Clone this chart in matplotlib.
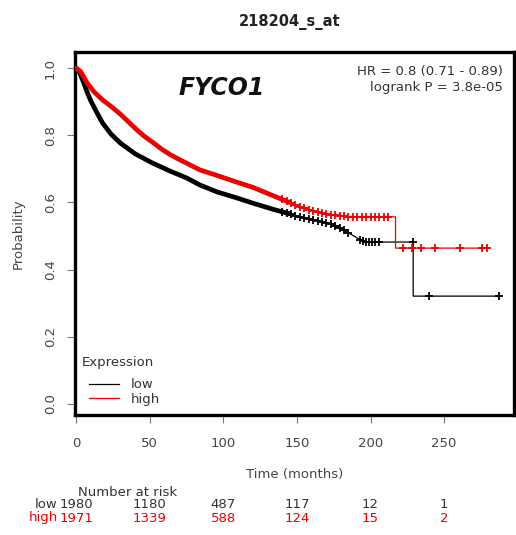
import matplotlib
matplotlib.use("Agg")
import matplotlib.pyplot as plt
import matplotlib.transforms as mtransforms
from matplotlib.lines import Line2D
import numpy as np

# ---- data ----
title = "218204_s_at"
gene = "FYCO1"
hr_text = "HR = 0.8 (0.71 - 0.89)"
p_text = "logrank P = 3.8e-05"

low_t = [0, 2, 5, 7.5, 10, 14, 18, 24, 30, 40, 52, 64, 75, 84, 96, 108, 120, 135, 145, 152,
         165, 175, 184, 191, 196, 229, 229, 287]
low_s = [1.0, 0.99, 0.958, 0.928, 0.902, 0.868, 0.836, 0.802, 0.777, 0.745, 0.717, 0.693,
         0.673, 0.652, 0.631, 0.615, 0.598, 0.578, 0.566, 0.557, 0.545, 0.533, 0.512, 0.494,
         0.482, 0.482, 0.321, 0.321]
high_t = [0, 3, 5, 7.5, 12, 18, 24, 30, 36, 41, 46, 52, 58, 64, 70, 75, 84, 96, 108, 120,
          135, 145, 152, 165, 175, 185, 217, 217, 279]
high_s = [1.0, 0.99, 0.975, 0.955, 0.93, 0.905, 0.885, 0.863, 0.838, 0.817, 0.798, 0.779,
          0.759, 0.742, 0.728, 0.717, 0.697, 0.680, 0.662, 0.645, 0.618, 0.600, 0.586, 0.570,
          0.562, 0.557, 0.557, 0.464, 0.464]

# censoring marks (months) in the sparse late part
low_cens_t = [140, 143, 146, 149, 152, 155, 158, 161, 164, 167, 170, 173, 176, 179, 182,
              185, 193, 195, 197, 199, 201, 203, 206, 229, 240, 287]
high_cens_t = [140, 143, 146, 149, 152, 155, 158, 161, 164, 167, 170, 173, 176, 179, 182,
               185, 188, 191, 194, 197, 200, 203, 206, 209, 212, 222, 228, 234, 244, 261,
               276, 279]

risk_times = [0, 50, 100, 150, 200, 250]
risk_low = [1980, 1180, 487, 117, 12, 1]
risk_high = [1971, 1339, 588, 124, 15, 2]

xticks = [0, 50, 100, 150, 200, 250]
yticks = [0.0, 0.2, 0.4, 0.6, 0.8, 1.0]

LOW_C = "black"
HIGH_C = "#ee0000"
TXT = "#333333"
FS = 9.5

fig = plt.figure(figsize=(5.16, 5.35), dpi=100)
ax = fig.add_axes([75/516, 1-415/535, (514-75)/516, (415-52)/535])

for ts, ss, col, cut, cens in [(low_t, low_s, LOW_C, 150, low_cens_t),
                               (high_t, high_s, HIGH_C, 150, high_cens_t)]:
    ts = np.array(ts, dtype=float); ss = np.array(ss, dtype=float)
    ax.plot(ts, ss, color=col, lw=0.9, zorder=3)
    m = ts <= cut
    ax.plot(ts[m], ss[m], color=col, lw=3.4, solid_capstyle='round',
            solid_joinstyle='round', zorder=3)
    cy = []
    for t in cens:
        idx = np.where(ts == t)[0]
        cy.append(ss[idx[0]] if len(idx) > 0 else np.interp(t, ts, ss))
    ax.plot(cens, cy, linestyle='none', marker='+', color=col, ms=5.5, mew=1.3, zorder=4)

ax.set_xlim(-0.8, 297.5)
ax.set_ylim(-0.033, 1.048)
ax.set_xticks(xticks)
ax.set_yticks(yticks)
ax.set_xticklabels([str(v) for v in xticks])
ax.set_yticklabels(["%.1f" % v for v in yticks], rotation=90, va='center')
ax.tick_params(axis='both', direction='out', length=6, width=0.8, color='#777777',
               labelcolor='#444444', labelsize=FS)
ax.tick_params(axis='x', pad=10)
ax.tick_params(axis='y', pad=7)
for sp in ax.spines.values():
    sp.set_linewidth(2.4)
    sp.set_color('black')

ax.set_xlabel("Time (months)", fontsize=FS, color='#444444', labelpad=13)
ax.set_ylabel("Probability", fontsize=FS, color='#444444', labelpad=14)

fig.text(290/516, 1-22/535, title, ha='center', va='center', fontsize=10.5,
         fontweight='bold', color='#222222')

ax.text(99, 0.94, gene, ha='center', va='center', fontsize=17,
        fontweight='bold', fontstyle='italic', color='#111111')
ax.text(0.975, 0.945, hr_text, transform=ax.transAxes, ha='right', va='center',
        fontsize=FS, color=TXT)
ax.text(0.975, 0.901, p_text, transform=ax.transAxes, ha='right', va='center',
        fontsize=FS, color=TXT)

# legend
ax.text(0.016, 0.146, "Expression", transform=ax.transAxes, ha='left', va='center',
        fontsize=FS, color=TXT)
handles = [Line2D([], [], color=LOW_C, lw=0.9), Line2D([], [], color=HIGH_C, lw=0.9)]
leg = ax.legend(handles, ["low", "high"], loc='lower left',
                bbox_to_anchor=(0.01, 0.0), frameon=False, fontsize=FS,
                handlelength=2.3, handletextpad=0.9,
                labelspacing=0.12, borderaxespad=0.3)
for t in leg.get_texts():
    t.set_color(TXT)

# number at risk table
trans = mtransforms.blended_transform_factory(ax.transData, fig.transFigure)
fig.text(128/516, 1-493/535, "Number at risk", ha='center', va='center', fontsize=FS, color=TXT)
for i, t in enumerate(risk_times):
    fig.text(t, 1-505/535, str(risk_low[i]), transform=trans, ha='center', va='center',
             fontsize=FS, color=TXT)
    fig.text(t, 1-518/535, str(risk_high[i]), transform=trans, ha='center', va='center',
             fontsize=FS, color=HIGH_C)
fig.text(58/516, 1-505/535, "low", ha='right', va='center', fontsize=FS, color=TXT)
fig.text(58/516, 1-518/535, "high", ha='right', va='center', fontsize=FS, color=HIGH_C)

fig.savefig("out.png", dpi=100)
